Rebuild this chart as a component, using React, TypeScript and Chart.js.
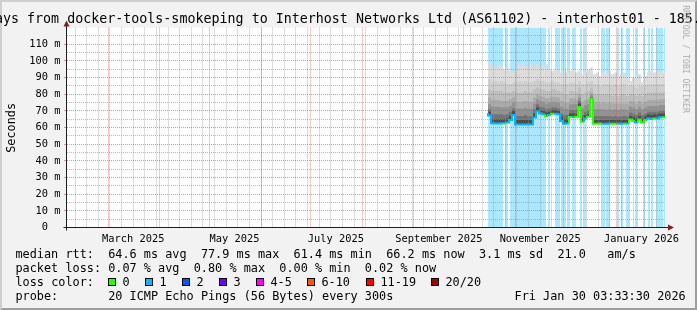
import React, { useEffect, useRef } from 'react';
import { Chart, registerables } from 'chart.js';
Chart.register(...registerables);

const FONT = "'DejaVu Sans Mono', monospace";

// ---- time axis (days since 2025-01-01) ----
const X_MIN = 34.15;
const X_MAX = 394.15;
const Y_MAX = 120;
const monthStartDays = [59, 90, 120, 151, 181, 212, 243, 273, 304, 334, 365];
const monthLabelDays = [74, 135, 196, 258, 319, 380];
const monthLabels = ['March 2025', 'May 2025', 'July 2025', 'September 2025', 'November 2025', 'January 2026'];
const firstSundayDay = 39;
const yMajorTicks = [0, 10, 20, 30, 40, 50, 60, 70, 80, 90, 100, 110];
const yMinorTicks = [5, 15, 25, 35, 45, 55, 65, 75, 85, 95, 105, 115];

// ---- data (ms), one value per RRD step ----
const smokeStartDay = 287.6;
const smokeStepDays = 1.806;
const medianRtt = [68.8, 67.2, 62.6, 62.5, 62.5, 62.6, 62.5, 63.0, 64.5, 67.5,
  61.8, 61.8, 61.8, 61.9, 61.8, 61.9, 66.0, 69.8, 68.5, 68.0,
  66.8, 67.5, 68.3, 68.3, 68.0, 64.0, 62.3, 62.5, 66.4, 66.4,
  66.5, 72.3, 63.5, 65.4, 66.5, 77.5, 62.3, 62.3, 62.4, 62.3,
  62.3, 62.4, 62.3, 62.3, 62.4, 62.3, 62.3, 62.4, 64.8, 64.0,
  63.0, 64.8, 63.0, 64.5, 65.5, 65.2, 65.4, 65.4, 66.2];
const smokeTop = [101, 99, 97, 96, 98, 97, 95, 96, 94, 93,
  96, 97, 99, 97, 96, 98, 96, 98, 95, 97,
  98, 95, 94, 95, 94, 93, 95, 93, 94, 95,
  93, 94, 92, 93, 95, 96, 92, 93, 91, 93,
  92, 94, 92, 93, 91, 92, 93, 91, 88, 90,
  91, 92, 87, 91, 93, 94, 93, 94, 93];
const smokeL2 = [90, 89, 87, 88, 87, 88, 87, 86, 86, 87,
  87, 88, 87, 88, 87, 87, 88, 89, 88, 88,
  87, 87, 88, 87, 87, 86, 86, 86, 87, 87,
  86, 88, 86, 86, 87, 88, 86, 86, 85, 86,
  86, 86, 85, 86, 85, 86, 86, 85, 85, 85,
  84, 85, 85, 85, 86, 86, 86, 86, 86];
const smokeL3 = [84, 83, 82, 82, 82, 82, 81, 81, 81, 82,
  81, 81, 81, 82, 81, 81, 83, 84, 83, 83,
  82, 82, 83, 83, 82, 81, 80, 80, 82, 82,
  81, 84, 80, 81, 82, 84, 80, 80, 80, 80,
  80, 80, 79, 80, 79, 80, 80, 79, 80, 80,
  79, 80, 79, 80, 81, 81, 81, 81, 81];
const smokeL4 = [79, 78, 76.5, 76.5, 76.5, 76, 76, 76, 77, 78,
  75.5, 75.5, 75.5, 76, 75.5, 75.5, 78, 80, 79, 78.5,
  77.5, 78, 78.5, 78.5, 78, 76, 75, 75, 77.5, 77.5,
  77, 80, 75, 76.5, 77, 81, 75, 75, 74.5, 75,
  74.5, 75, 74.5, 74.5, 74.5, 74.5, 74.5, 74.5, 76, 75.5,
  74.5, 76, 74.5, 75.5, 76.5, 76.5, 76.5, 76.5, 77];
const smokeL5 = [75, 74, 72.5, 72.5, 72.5, 72, 72, 72, 73, 75,
  71.5, 71.5, 71.5, 72, 71.5, 71.5, 74.5, 77, 76, 75.5,
  74.5, 75, 75.5, 75.5, 75, 72.5, 71.5, 71.5, 74, 74,
  74, 78, 71.5, 73.5, 74, 79.5, 71, 71, 71, 71,
  70.5, 71, 70.5, 71, 70.5, 71, 71, 70.5, 72.5, 72,
  71, 72.5, 71, 72, 73, 73, 73, 73, 73.5];
const smokeL6 = [72, 71, 68, 68, 68, 68, 67.5, 68, 69.5, 71.5,
  67, 67, 67, 67.5, 67, 67, 71, 74, 72.5, 72,
  71, 71.5, 72, 72, 71.5, 68.5, 67.5, 67.5, 70.5, 70.5,
  70.5, 76, 67.5, 69.5, 70, 78.5, 67, 67, 67, 67,
  67, 67, 66.5, 67, 66.5, 67, 67, 66.5, 69, 68.5,
  67.5, 69, 67.5, 68.5, 69.5, 69.5, 69.5, 69.5, 70];
const smokeL7 = [70.5, 69.5, 65, 65, 65, 65, 65, 65.5, 67, 70,
  64.5, 64.5, 64.5, 64.5, 64.5, 64.5, 68.5, 72, 70.5, 70,
  69, 69.5, 70.5, 70.5, 70, 66.5, 65, 65, 68.5, 68.5,
  68.5, 74.5, 65.5, 67.5, 68, 78, 64.5, 64.5, 64.5, 64.5,
  64.5, 64.5, 64.5, 64.5, 64.5, 64.5, 64.5, 64.5, 67, 66.5,
  65.5, 67, 65.5, 67, 68, 67.5, 68, 68, 68.5];

// periods with packet loss (1/20), in days
const lossStartDays = [287.60, 297.83, 300.84, 323.72, 327.93, 331.54, 335.15, 338.16, 342.98, 344.78,
  355.62, 358.63, 365.26, 367.66, 370.67, 376.09, 380.91, 383.92, 385.72, 388.73, 393.54];
const lossEndDays = [296.63, 299.64, 322.51, 324.92, 330.94, 333.95, 336.96, 339.97, 344.18, 346.59,
  358.03, 361.04, 366.46, 368.86, 373.08, 377.90, 382.11, 385.12, 386.92, 392.94, 394.15];

const lossLabels = ['0', '1', '2', '3', '4-5', '6-10', '11-19', '20/20'];
const lossColors = ['#26ff00', '#00b8ff', '#0059ff', '#6a00ff', '#ff00ff', '#ff5500', '#ff0000', '#a10000'];
const lossBoxX = [108, 145, 182, 219, 256, 307, 366, 431];

const smokeColors = ['#dcdcdc', '#cecece', '#bebebe', '#aaaaaa', '#929292', '#747474', '#4e4e4e'];

const GRID = 'rgba(143,143,143,0.6)';
const MGRID = 'rgba(222,79,79,0.6)';

const toPts = (arr: number[]) => {
  const pts = arr.map((v, i) => ({ x: smokeStartDay + i * smokeStepDays, y: v }));
  pts.push({ x: X_MAX, y: arr[arr.length - 1] });
  return pts;
};
const inLoss = (d: number) => lossStartDays.some((s, i) => d >= s && d < lossEndDays[i]);

const frame = {
  id: 'rrdFrame',
  beforeDraw(chart: any) {
    const { ctx, chartArea: a, width: W, height: H } = chart;
    ctx.save();
    ctx.fillStyle = '#f2f2f2';
    ctx.fillRect(0, 0, W, H);
    ctx.fillStyle = '#cfcfcf';
    ctx.beginPath();
    ctx.moveTo(0, H); ctx.lineTo(2, H - 2); ctx.lineTo(2, 2); ctx.lineTo(W - 2, 2); ctx.lineTo(W, 0); ctx.lineTo(0, 0);
    ctx.closePath(); ctx.fill();
    ctx.fillStyle = '#9e9e9e';
    ctx.beginPath();
    ctx.moveTo(2, H - 2); ctx.lineTo(W - 2, H - 2); ctx.lineTo(W - 2, 2); ctx.lineTo(W, 0); ctx.lineTo(W, H); ctx.lineTo(0, H);
    ctx.closePath(); ctx.fill();
    ctx.fillStyle = '#ffffff';
    ctx.fillRect(a.left, a.top, a.right - a.left, a.bottom - a.top);
    ctx.restore();
  },
  afterDraw(chart: any) {
    const { ctx, chartArea: a } = chart;
    const ax = Math.round(a.left) - 0.5;
    const ay = Math.round(a.bottom) - 0.5;
    ctx.save();
    ctx.strokeStyle = '#1f1f1f';
    ctx.lineWidth = 1;
    ctx.beginPath();
    ctx.moveTo(ax - 3, ay); ctx.lineTo(a.right + 4, ay);
    ctx.moveTo(ax, ay + 3); ctx.lineTo(ax, a.top - 2);
    ctx.stroke();
    ctx.fillStyle = '#801f1f';
    ctx.beginPath();
    ctx.moveTo(ax - 3, a.top - 1); ctx.lineTo(ax + 3, a.top - 1); ctx.lineTo(ax, a.top - 7);
    ctx.closePath(); ctx.fill();
    ctx.beginPath();
    ctx.moveTo(a.right + 3, ay - 3); ctx.lineTo(a.right + 3, ay + 3); ctx.lineTo(a.right + 9, ay);
    ctx.closePath(); ctx.fill();
    ctx.restore();
  },
};

function MonoText({ text, left, top, cw, size, color = '#000' }: any) {
  const out: any[] = [];
  const re = /\S+/g;
  let m: RegExpExecArray | null;
  while ((m = re.exec(text)) !== null) {
    out.push(
      <span key={m.index} style={{ position: 'absolute', left: left + m.index * cw, top, fontSize: size, lineHeight: `${size}px`, whiteSpace: 'pre', color }}>{m[0]}</span>
    );
  }
  return <>{out}</>;
}

const LEG_CW = 7.13;
const LEG_SIZE = 11.84;
const LEG_X = 15.5;
const rowTop = (i: number) => 249.4 + i * 14;

export default function App() {
  const ref = useRef<HTMLCanvasElement>(null);
  useEffect(() => {
    const layers = [smokeL7, smokeL6, smokeL5, smokeL4, smokeL3, smokeL2, smokeTop];
    const layerColors = [smokeColors[6], smokeColors[5], smokeColors[4], smokeColors[3], smokeColors[2], smokeColors[1], smokeColors[0]];
    const lossPts: any[] = [];
    lossStartDays.forEach((s, i) => {
      lossPts.push({ x: s, y: Y_MAX }, { x: lossEndDays[i], y: Y_MAX }, { x: lossEndDays[i], y: null });
    });
    const datasets: any[] = [
      {
        label: 'median', data: toPts(medianRtt), order: 0, stepped: 'after', fill: false,
        borderWidth: 2, borderColor: lossColors[0], pointRadius: 0,
        segment: {
          borderColor: (c: any) => {
            const d = smokeStartDay + (c.p0DataIndex + 0.5) * smokeStepDays;
            return inLoss(d) ? lossColors[1] : lossColors[0];
          },
        },
      },
      ...layers.map((arr, i) => ({
        label: 'smoke' + i, data: toPts(arr), order: i + 1, stepped: 'after', fill: 0,
        backgroundColor: layerColors[i], borderColor: 'transparent', borderWidth: 0, pointRadius: 0,
      })),
      {
        label: 'loss', data: lossPts, order: 10, fill: 'start', spanGaps: false,
        backgroundColor: 'rgba(0,184,255,0.33)', borderColor: 'transparent', borderWidth: 0, pointRadius: 0,
      },
    ];
    const weekDays: number[] = [];
    for (let d = firstSundayDay; d <= X_MAX; d += 7) weekDays.push(d);
    const tickFont = { family: FONT, size: 10.36, lineHeight: 1.2 };
    const chart = new Chart(ref.current as HTMLCanvasElement, {
      type: 'line',
      data: { datasets },
      plugins: [frame],
      options: {
        responsive: false,
        devicePixelRatio: 1,
        animation: false,
        events: [],
        layout: { padding: { top: 27.6, right: 32, bottom: 62.5, left: 0 } },
        plugins: { legend: { display: false }, tooltip: { enabled: false }, title: { display: false } },
        scales: {
          x: {
            type: 'linear', position: 'bottom', min: X_MIN, max: X_MAX,
            afterBuildTicks: (s: any) => { s.ticks = monthLabelDays.map((v) => ({ value: v })); },
            afterFit: (s: any) => { s.height = 20; },
            grid: { display: false },
            border: { display: false },
            ticks: {
              autoSkip: false, maxRotation: 0, minRotation: 0, padding: -2, color: '#000', font: tickFont,
              callback: (_v: any, i: number) => monthLabels[i],
            },
          },
          xMonth: {
            type: 'linear', position: 'bottom', min: X_MIN, max: X_MAX,
            afterBuildTicks: (s: any) => { s.ticks = monthStartDays.map((v) => ({ value: v })); },
            afterFit: (s: any) => { s.height = 0; },
            ticks: { display: false },
            grid: { color: MGRID, drawTicks: false, lineWidth: 1, z: 2 },
            border: { display: false, dash: [1, 1] },
          },
          xWeek: {
            type: 'linear', position: 'bottom', min: X_MIN, max: X_MAX,
            afterBuildTicks: (s: any) => { s.ticks = weekDays.map((v) => ({ value: v })); },
            afterFit: (s: any) => { s.height = 0; },
            ticks: { display: false },
            grid: { color: GRID, drawTicks: false, lineWidth: 1, z: 1 },
            border: { display: false, dash: [1, 1] },
          },
          y: {
            type: 'linear', position: 'left', min: 0, max: Y_MAX,
            afterBuildTicks: (s: any) => { s.ticks = yMajorTicks.map((v) => ({ value: v })); },
            afterFit: (s: any) => { s.width = 67; },
            grid: { color: MGRID, drawTicks: true, tickLength: 3, tickColor: MGRID, lineWidth: 1, z: 2 },
            border: { display: false, dash: [1, 1] },
            ticks: {
              autoSkip: false, padding: 3.5, color: '#000', font: tickFont,
              callback: (v: any) => (v === 0 ? '0  ' : `${v} m`),
            },
          },
          yMinor: {
            type: 'linear', position: 'left', min: 0, max: Y_MAX,
            afterBuildTicks: (s: any) => { s.ticks = yMinorTicks.map((v) => ({ value: v })); },
            afterFit: (s: any) => { s.width = 0; },
            ticks: { display: false },
            grid: { color: GRID, drawTicks: false, lineWidth: 1, z: 1 },
            border: { display: false, dash: [1, 1] },
          },
        },
      } as any,
    });
    return () => chart.destroy();
  }, []);

  return (
    <div style={{ position: 'absolute', left: 0, top: 0, width: 697, height: 310, overflow: 'hidden', fontFamily: FONT, color: '#000' }}>
      <canvas ref={ref} width={697} height={310} style={{ position: 'absolute', left: 0, top: 0, width: 697, height: 310 }} />
      <MonoText text="ays from docker-tools-smokeping to Interhost Networks Ltd (AS61102) - interhost01 - 185." left={-5} top={12} cw={8.02} size={13.32} />
      <div style={{ position: 'absolute', left: 11.5 - 35, top: 128 - 5.92, width: 70, height: 11.84, lineHeight: '11.84px', fontSize: 11.84, textAlign: 'center', transform: 'rotate(-90deg)', whiteSpace: 'pre' }}>Seconds</div>
      <div style={{ position: 'absolute', left: 686 - 60, top: 59 - 4.07, width: 120, height: 8.14, lineHeight: '8.14px', fontSize: 8.14, textAlign: 'center', transform: 'rotate(90deg)', whiteSpace: 'pre', color: '#aaaaaa' }}>RRDTOOL / TOBI OETIKER</div>
      <MonoText text="median rtt:  64.6 ms avg  77.9 ms max  61.4 ms min  66.2 ms now  3.1 ms sd  21.0   am/s" left={LEG_X} top={rowTop(0)} cw={LEG_CW} size={LEG_SIZE} />
      <MonoText text="packet loss: 0.07 % avg  0.80 % max  0.00 % min  0.02 % now" left={LEG_X} top={rowTop(1)} cw={LEG_CW} size={LEG_SIZE} />
      <MonoText text="loss color:" left={LEG_X} top={rowTop(2)} cw={LEG_CW} size={LEG_SIZE} />
      {lossLabels.map((lab, i) => (
        <React.Fragment key={lab}>
          <div style={{ position: 'absolute', left: lossBoxX[i], top: 278, width: 8, height: 8, boxSizing: 'border-box', border: '1px solid #000', background: lossColors[i] }} />
          <span style={{ position: 'absolute', left: lossBoxX[i] + 14.5, top: rowTop(2), fontSize: LEG_SIZE, lineHeight: `${LEG_SIZE}px`, whiteSpace: 'pre' }}>{lab}</span>
        </React.Fragment>
      ))}
      <MonoText text="probe:       20 ICMP Echo Pings (56 Bytes) every 300s" left={LEG_X} top={rowTop(3)} cw={LEG_CW} size={LEG_SIZE} />
      <MonoText text="Fri Jan 30 03:33:30 2026" left={LEG_X + 70 * LEG_CW} top={rowTop(3)} cw={LEG_CW} size={LEG_SIZE} />
    </div>
  );
}
